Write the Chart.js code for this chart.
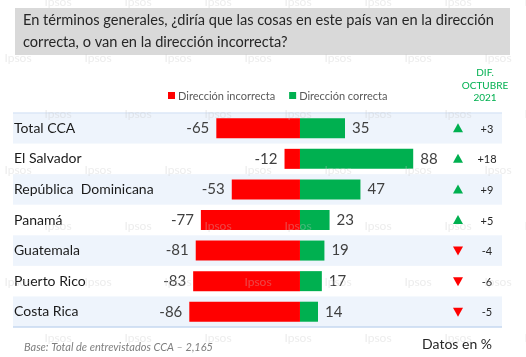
<!DOCTYPE html>
<html><head><meta charset="utf-8">
<script src="https://cdn.jsdelivr.net/npm/chart.js@4/dist/chart.umd.min.js"></script>
<style>html,body{margin:0;padding:0;background:#fff}#wrap{width:526px;height:357px;position:relative}</style>
</head><body><div id="wrap"><canvas id="c" width="526" height="357"></canvas></div>
<script>
const categories = ["Total CCA","El Salvador","República  Dominicana","Panamá","Guatemala","Puerto Rico","Costa Rica"];
const incorrecta = [-65,-12,-53,-77,-81,-83,-86];
const correcta = [35,88,47,23,19,17,14];
const difOctubre = [3,18,9,5,-4,-6,-5];
const seriesNames = ["Dirección incorrecta","Dirección correcta"];
const titleLines = ["En términos generales, ¿diría que las cosas en este país van en la dirección","correcta, o van en la dirección incorrecta?"];
const difHeader = ["DIF.","OCTUBRE","2021"];
const footNote = "Base: Total de entrevistados CCA – 2,165";
const unitNote = "Datos en %";

const FONT = "Lato, 'Open Sans', sans-serif";
const RED = "#ff0000", GREEN = "#00b050";

const deco = {
  id:'deco',
  beforeDraw(chart){
    const ctx = chart.ctx, ca = chart.chartArea, y = chart.scales.y;
    ctx.save();
    ctx.fillStyle = "#d9d9d9";
    ctx.fillRect(15,8,495,47);
    ctx.fillStyle = "#262626";
    ctx.font = "14.6px " + FONT;
    ctx.textBaseline = "middle";
    ctx.fillText(titleLines[0],23,20);
    ctx.fillText(titleLines[1],23,42);
    const n = categories.length;
    const step = (ca.bottom-ca.top)/n;
    for(let i=0;i<n;i++){
      if(i%2===0){
        ctx.fillStyle = "#eef4fc";
        const c = y.getPixelForValue(i);
        ctx.fillRect(ca.left,c-step/2,ca.right-ca.left,step);
      }
    }
    ctx.strokeStyle = "#dbe7f7"; ctx.lineWidth = 1.5;
    ctx.beginPath(); ctx.moveTo(ca.left,ca.top); ctx.lineTo(ca.right,ca.top); ctx.stroke();
    ctx.strokeStyle = "#c6d9f1";
    ctx.beginPath(); ctx.moveTo(ca.left,ca.bottom); ctx.lineTo(ca.right,ca.bottom); ctx.stroke();
    ctx.restore();
  },
  afterDraw(chart){
    const ctx = chart.ctx, y = chart.scales.y;
    ctx.save();
    ctx.textBaseline = "middle";
    ctx.font = "14px " + FONT; ctx.fillStyle = "#1a1a1a"; ctx.textAlign = "left";
    categories.forEach((c,i)=>ctx.fillText(c,14,y.getPixelForValue(i)));
    ctx.font = "15px " + FONT; ctx.fillStyle = "#404040";
    const m0 = chart.getDatasetMeta(0), m1 = chart.getDatasetMeta(1);
    m0.data.forEach((b,i)=>{ ctx.textAlign="right"; ctx.fillText(String(incorrecta[i]), b.x-7, b.y); });
    m1.data.forEach((b,i)=>{ ctx.textAlign="left"; ctx.fillText(String(correcta[i]), b.x+7, b.y); });
    difOctubre.forEach((d,i)=>{
      const cy = y.getPixelForValue(i);
      ctx.fillStyle = d>=0?GREEN:RED;
      ctx.beginPath();
      if(d>=0){ ctx.moveTo(458,cy-5); ctx.lineTo(463,cy+4); ctx.lineTo(453,cy+4); }
      else { ctx.moveTo(453,cy-4); ctx.lineTo(463,cy-4); ctx.lineTo(458,cy+5); }
      ctx.closePath(); ctx.fill();
      ctx.fillStyle = "#262626"; ctx.font = "11px " + FONT; ctx.textAlign = "center";
      ctx.fillText((d>0?"+":"")+d, 487, cy+1);
    });
    ctx.font = "11px " + FONT; ctx.textAlign = "left";
    const ds = chart.data.datasets;
    let lx = 168;
    ds.forEach((d,k)=>{
      ctx.fillStyle = d.backgroundColor; ctx.fillRect(lx,92,7,7);
      ctx.fillStyle = "#595959"; ctx.fillText(d.label, lx+10, 96);
      lx += 10 + ctx.measureText(d.label).width + 14;
    });
    ctx.fillStyle = GREEN; ctx.font = "10px " + FONT; ctx.textAlign = "center";
    difHeader.forEach((t,k)=>ctx.fillText(t,485,73+k*12.5));
    ctx.fillStyle = "#7f7f7f"; ctx.font = "italic 11px " + FONT; ctx.textAlign = "left";
    ctx.fillText(footNote,24,347);
    ctx.fillStyle = "#262626"; ctx.font = "14px " + FONT; ctx.textAlign = "right";
    ctx.fillText(unitNote,492,344);
    ctx.fillStyle = "rgba(200,200,200,0.35)"; ctx.font = "12px " + FONT; ctx.textAlign = "center";
    for(let r=0;r<7;r++){
      const wy = 2 + r*56;
      const off = r%2===0?58:18;
      for(let wx=off; wx<540; wx+=80) ctx.fillText("Ipsos",wx,wy);
    }
    ctx.restore();
  }
};

new Chart(document.getElementById('c'),{
  type:'bar',
  data:{
    labels:categories,
    datasets:[
      {label:seriesNames[0],data:incorrecta,backgroundColor:RED,borderWidth:0,categoryPercentage:1,barPercentage:0.655},
      {label:seriesNames[1],data:correcta,backgroundColor:GREEN,borderWidth:0,categoryPercentage:1,barPercentage:0.655}
    ]
  },
  options:{
    indexAxis:'y',
    responsive:false,
    animation:false,
    devicePixelRatio:1,
    layout:{padding:{left:13,right:24,top:113,bottom:30}},
    plugins:{legend:{display:false},tooltip:{enabled:false}},
    scales:{
      x:{stacked:true,min:-223,max:157,display:false},
      y:{stacked:true,display:false}
    }
  },
  plugins:[deco]
});
</script></body></html>
